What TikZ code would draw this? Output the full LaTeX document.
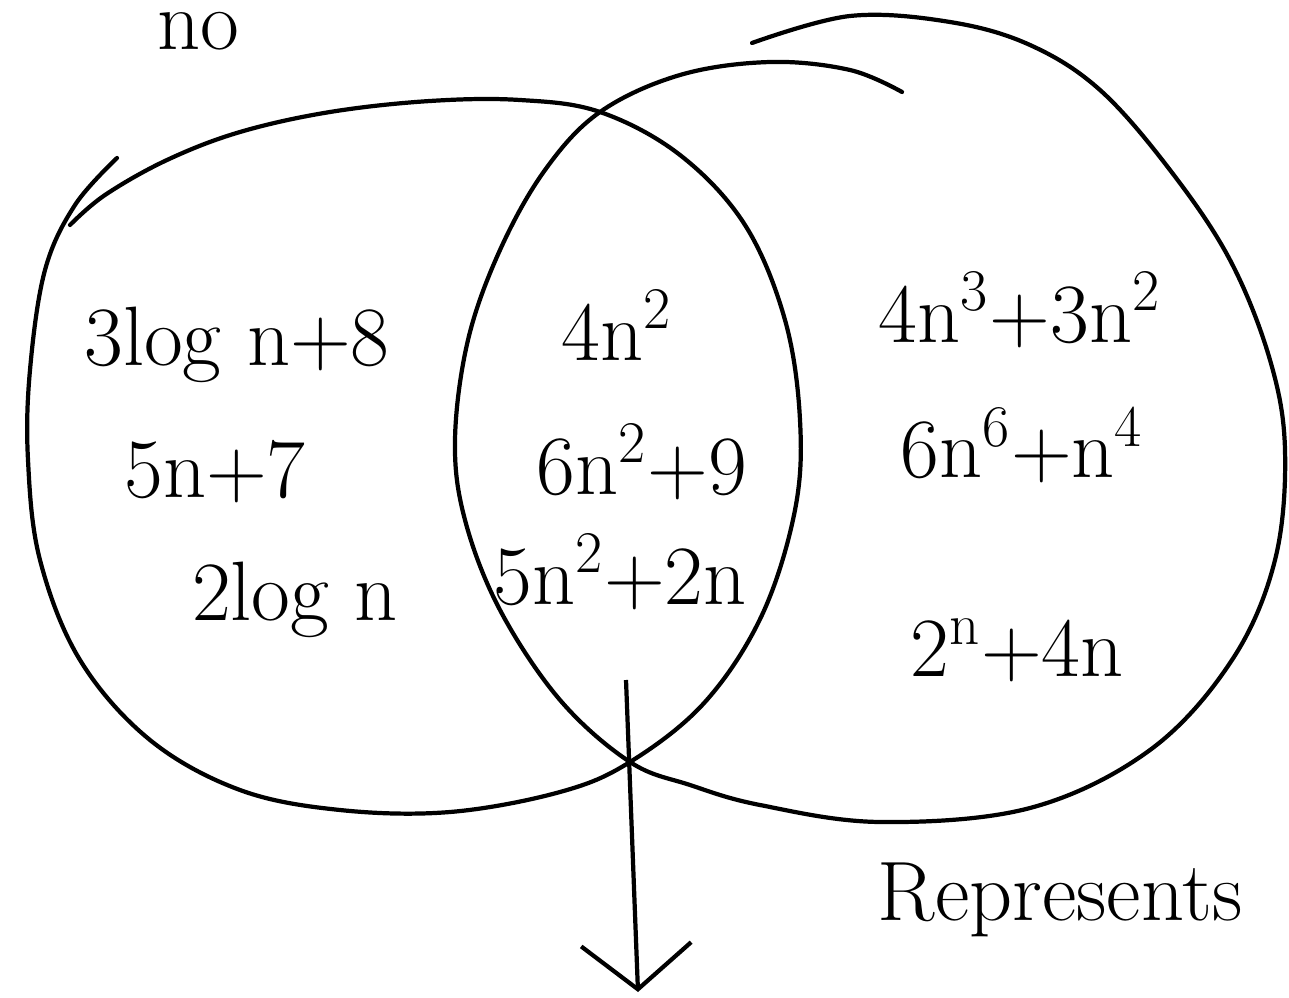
\documentclass[tikz,border=0pt]{standalone}
\usepackage{tikz}
\usetikzlibrary{arrows.meta, positioning}

\begin{document}
\begin{tikzpicture}[
    x=0.1mm, y=-0.1mm,
    stroke/.style={line width=1.2pt, line cap=round, line join=round},
    hand/.style={inner sep=0pt, font=\fontsize{24}{28}\selectfont},
    arr/.style={-{Straight Barb[length=4.5mm, width=11mm]}, line width=1.2pt}
  ]
    \clip (0,0) rectangle (1289,998);

    % the two sets
    \draw[stroke] plot[smooth, tension=0.6] coordinates {
      (117,158) (75,205) (45,270) (30,370) (28,460) (40,560) (80,660)
      (150,740) (240,790) (340,810) (450,812) (560,792) (630,762)
      (705,702) (762,615) (795,510) (800,420) (785,320) (745,225)
      (680,155) (600,112) (520,100) (430,101) (330,112) (240,132)
      (167,160) (105,195) (70,225)};
    \draw[stroke] plot[smooth, tension=0.6] coordinates {
      (752,43) (850,16) (950,22) (1030,45) (1100,90) (1170,170)
      (1230,260) (1270,360) (1285,450) (1275,560) (1232,660)
      (1150,750) (1030,808) (880,822) (760,805) (690,785) (630,762)
      (560,700) (500,610) (465,520) (455,440) (468,340) (500,250)
      (545,170) (600,112) (680,75) (770,62) (850,70) (902,92)};

    \node[hand, anchor=base] (top) at (198,50) {no};

    % left only
    \node[hand] (l1) at (237,345) {3log n+8};
    \node[hand] (l2) at (215,472) {5n+7};
    \node[hand] (l3) at (295,600) {2log n};

    % both
    \node[hand] (m1) at (617,325) {4n\textsuperscript{2}};
    \node[hand] (m2) at (642,462) {6n\textsuperscript{2}+9};
    \node[hand] (m3) at (620,572) {5n\textsuperscript{2}+2n};

    % right only
    \node[hand] (r1) at (1020,310) {4n\textsuperscript{3}+3n\textsuperscript{2}};
    \node[hand] (r2) at (1022,445) {6n\textsuperscript{6}+n\textsuperscript{4}};
    \node[hand] (r3) at (1017,650) {2\textsuperscript{n}+4n};

    \node[hand] (note) at (1060,900) {Represents};

    \coordinate (tail) at (626,680);
    \coordinate (tip) at (638,992);
    \draw[arr] (tail) -- (tip);
\end{tikzpicture}
\end{document}
